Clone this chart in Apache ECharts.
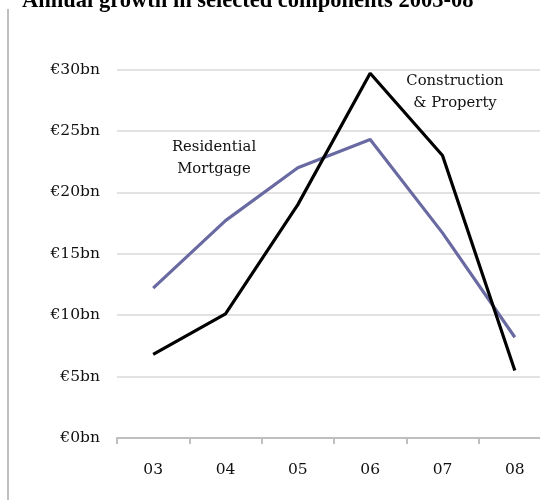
<!DOCTYPE html>
<html><head><meta charset="utf-8">
<script src="https://cdn.jsdelivr.net/npm/echarts@6/dist/echarts.min.js"></script>
<style>html,body{margin:0;padding:0;background:#fff}#c{width:540px;height:500px}</style>
</head><body><div id="c"></div>
<script>
var categories = ['03','04','05','06','07','08'];
var construction = [6.8, 10.1, 19.0, 29.7, 23.0, 5.5];
var mortgage = [12.2, 17.7, 22.0, 24.3, 16.7, 8.2];
var yTicks = [0, 5, 10, 15, 20, 25, 30];
var titleText = 'Annual growth in selected components 2003-08';

var chart = echarts.init(document.getElementById('c'));
var serif = 'DejaVu Serif';
chart.setOption({
  animation: false,
  grid: {left: 117, top: 69.5, right: -11, bottom: 62, containLabel: false, outerBoundsMode: 'none'},
  xAxis: {
    type: 'category', data: categories, boundaryGap: true,
    axisLine: {lineStyle: {color: '#bfbfbf', width: 2}},
    axisTick: {show: true, length: 6, lineStyle: {color: '#bfbfbf', width: 2}},
    axisLabel: {color: '#111', fontFamily: serif, fontSize: 15.5, margin: 24}
  },
  yAxis: {
    type: 'value', min: yTicks[0], max: yTicks[yTicks.length-1], interval: 5,
    axisLine: {show: false}, axisTick: {show: false},
    splitLine: {lineStyle: {color: '#d9d9d9', width: 1.5}},
    axisLabel: {color: '#111', fontFamily: serif, fontSize: 15.5, margin: 17,
      formatter: function(v){ return '€' + v + 'bn'; }}
  },
  series: [
    {type: 'line', data: mortgage, symbol: 'none', lineStyle: {color: '#6a6aa2', width: 3.2}},
    {type: 'line', data: construction, symbol: 'none', lineStyle: {color: '#000', width: 3.2}}
  ],
  graphic: [
    {type: 'line', shape: {x1: 8, y1: 9, x2: 8, y2: 500}, style: {stroke: '#bfbfbf', lineWidth: 2}},
    {type: 'text', left: 22, top: -10, style: {text: titleText, font: 'bold 22.5px "Liberation Serif"', fill: '#000'}},
    {type: 'text', x: 455, y: 92, style: {text: 'Construction\n& Property', font: '14.8px "DejaVu Serif"', fill: '#111', align: 'center', verticalAlign: 'middle', lineHeight: 22.6}},
    {type: 'text', x: 214, y: 158, style: {text: 'Residential\nMortgage', font: '14.8px "DejaVu Serif"', fill: '#111', align: 'center', verticalAlign: 'middle', lineHeight: 22.6}}
  ]
});
</script></body></html>
